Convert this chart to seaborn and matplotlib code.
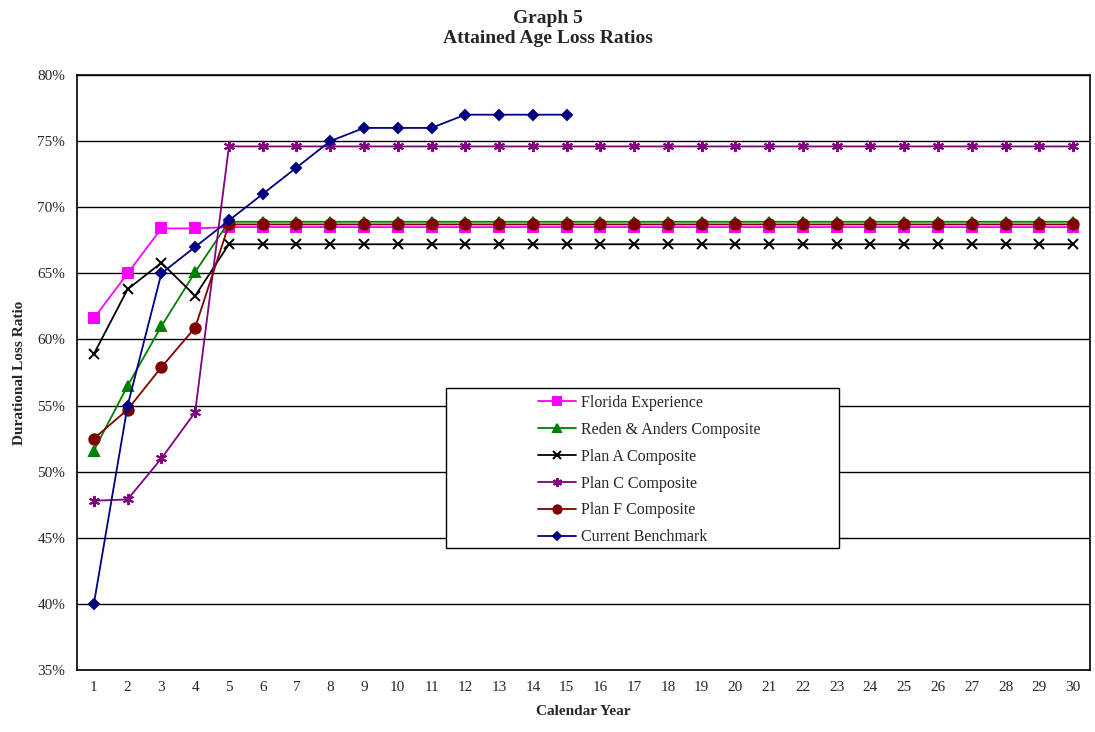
import pandas as pd
import matplotlib.pyplot as plt
import seaborn as sns
from matplotlib.patches import Rectangle
from matplotlib.ticker import FuncFormatter, MultipleLocator

# data (loss ratio, %)
years = list(range(1, 31))
florida = [61.6, 65.0, 68.4, 68.4] + [68.5] * 26
reden = [51.6, 56.5, 61.0, 65.1] + [68.9] * 26
plan_a = [58.9, 63.8, 65.8, 63.3] + [67.2] * 26
plan_c = [47.8, 47.9, 51.0, 54.5] + [74.6] * 26
plan_f = [52.5, 54.7, 57.9, 60.9] + [68.7] * 26
benchmark = [40.0, 55.0, 65.0, 67.0, 69.0, 71.0, 73.0, 75.0, 76.0, 76.0, 76.0, 77.0, 77.0, 77.0, 77.0]

series = [
    ("Florida Experience", florida, "#FF00FF", "s", 7),
    ("Reden & Anders Composite", reden, "#008000", "^", 7),
    ("Plan A Composite", plan_a, "#000000", "x", 7),
    ("Plan C Composite", plan_c, "#800080", (6, 2, 0), 8),
    ("Plan F Composite", plan_f, "#800000", "o", 7.5),
    ("Current Benchmark", benchmark, "#000080", "D", 5.5),
]

sns.set_style("white")
plt.rcParams['font.family'] = ['Liberation Serif', 'DejaVu Serif']

fig = plt.figure(figsize=(10.95, 7.32), dpi=100)
ax = fig.add_axes([0.0703, 0.0847, 0.9251, 0.8128])

for name, vals, color, marker, ms in series:
    df = pd.DataFrame({"year": years[:len(vals)], "ratio": vals})
    sns.lineplot(data=df, x="year", y="ratio", ax=ax, color=color, marker=marker,
                 markersize=ms, markeredgecolor=color, markerfacecolor=color,
                 markeredgewidth=1.4, linewidth=1.3, label=name)

ax.set_xlim(0.5, 30.5)
ax.set_ylim(35, 80)
ax.yaxis.set_major_locator(MultipleLocator(5))
ax.yaxis.set_major_formatter(FuncFormatter(lambda v, p: f"{v:.0f}%"))
ax.set_xticks(years)
ax.set_xticks([y + 0.5 for y in range(0, 31)], minor=True)
ax.tick_params(axis='x', which='major', length=0, labelsize=11, pad=8)
ax.tick_params(axis='x', which='minor', length=6, width=1, direction='out', color='black')
ax.tick_params(axis='y', which='major', length=5, width=1, direction='out', color='black', labelsize=11)
ax.grid(axis='y', color='black', linewidth=1)
ax.set_axisbelow(True)
for s in ax.spines.values():
    s.set_color('black')
    s.set_linewidth(1.2)

ax.set_xlabel("Calendar Year", fontsize=11, fontweight='bold', labelpad=8)
ax.set_ylabel("Durational Loss Ratio", fontsize=11, fontweight='bold', labelpad=8)
fig.suptitle("Graph 5\nAttained Age Loss Ratios", fontsize=14, fontweight='bold',
             y=0.986, linespacing=1.25)

# legend box
box = Rectangle((0.364, 0.205), 0.388, 0.269, transform=ax.transAxes,
                facecolor='white', edgecolor='black', linewidth=1, zorder=5)
ax.add_patch(box)
ax.legend(loc='center', bbox_to_anchor=(0.565, 0.336), frameon=False, fontsize=11.5,
          handlelength=2.4, handletextpad=0.3, labelspacing=0.68, markerscale=0.8).set_zorder(6)

plt.savefig("out.png", dpi=100)
